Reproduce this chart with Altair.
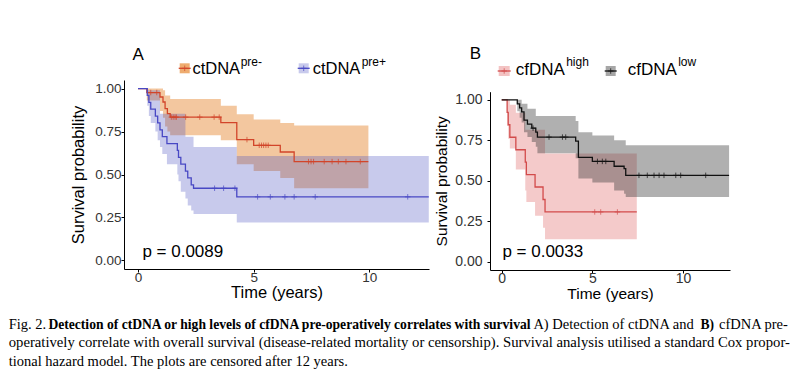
import altair as alt
import numpy as np
import pandas as pd

# ---------------- Panel A : ctDNA pre- / pre+ ----------------
a_neg_t = [0, 0.38, 0.95, 1.08, 1.17, 1.27, 1.39, 3.58, 4.27, 5.00, 6.15, 6.75, 9.96]
a_neg_s = [1, 0.977, 0.951, 0.922, 0.883, 0.854, 0.834, 0.802, 0.703, 0.670, 0.631, 0.575, 0.575]
a_neg_hi = [1, 1, 1, 0.99, 0.96, 0.96, 0.94, 0.90, 0.85, 0.82, 0.80, 0.785, 0.785]
a_neg_lo = [1, 0.93, 0.87, 0.83, 0.78, 0.75, 0.728, 0.70, 0.56, 0.52, 0.48, 0.42, 0.42]
a_neg_cens = [0.55, 0.81, 1.44, 1.52, 1.60, 1.66, 2.06, 2.67, 3.29, 3.51, 4.71, 5.24, 5.34,
              5.43, 5.53, 5.63, 7.37, 7.48, 7.59, 8.05, 8.39, 8.66, 8.99, 9.61]

a_pos_t = [0, 0.40, 0.47, 0.55, 0.75, 0.85, 0.95, 1.05, 1.25, 1.70, 1.75, 1.85, 2.05, 2.15,
           2.30, 2.40, 4.27, 12.57]
a_pos_s = [1, 0.96, 0.92, 0.88, 0.84, 0.80, 0.76, 0.72, 0.68, 0.64, 0.60, 0.56, 0.52, 0.48,
           0.44, 0.42, 0.37, 0.37]
a_pos_hi = [1, 0.99, 0.99, 0.99, 0.99, 0.99, 0.854, 0.854, 0.854, 0.854, 0.854, 0.854, 0.72,
            0.72, 0.72, 0.66, 0.607, 0.607]
a_pos_lo = [1, 0.90, 0.84, 0.80, 0.75, 0.70, 0.66, 0.62, 0.56, 0.50, 0.46, 0.40, 0.36, 0.32,
            0.29, 0.27, 0.22, 0.22]
a_pos_cens = [3.31, 3.70, 4.19, 5.17, 5.72, 6.35, 6.75, 7.66, 11.66]

# ---------------- Panel B : cfDNA high / low ----------------
b_high_t = [0, 0.30, 0.36, 0.45, 0.78, 1.30, 1.36, 1.84, 2.28, 2.39, 7.45]
b_high_s = [1, 0.923, 0.846, 0.769, 0.692, 0.615, 0.538, 0.462, 0.385, 0.308, 0.308]
b_high_hi = [1, 1, 1, 0.97, 0.92, 0.815, 0.815, 0.815, 0.815, 0.668, 0.668]
b_high_lo = [1, 0.84, 0.76, 0.70, 0.57, 0.44, 0.37, 0.285, 0.21, 0.14, 0.14]
b_high_cens = [5.13, 5.46, 6.38]

b_low_t = [0, 0.86, 0.99, 1.10, 1.23, 1.42, 1.66, 1.88, 1.97, 4.08, 4.23, 5.00, 6.20, 6.75,
           6.84, 12.54]
b_low_s = [1, 0.975, 0.95, 0.925, 0.875, 0.85, 0.825, 0.80, 0.77, 0.745, 0.645, 0.62, 0.59,
           0.575, 0.534, 0.534]
b_low_hi = [1, 1, 1, 0.975, 0.975, 0.945, 0.945, 0.90, 0.90, 0.87, 0.80, 0.78, 0.75, 0.75,
            0.72, 0.72]
b_low_lo = [1, 0.93, 0.89, 0.86, 0.80, 0.77, 0.74, 0.71, 0.67, 0.64, 0.515, 0.49, 0.44, 0.42,
            0.40, 0.40]
b_low_cens = [1.73, 2.61, 3.35, 3.53, 5.28, 5.55, 5.74, 7.57, 8.03, 8.40, 8.68, 8.95, 9.60,
              9.87, 11.25]

y_ticks = [0, 0.25, 0.5, 0.75, 1.0]
x_ticks = [0, 5, 10]

SANS = "Liberation Sans"
SERIF = "Liberation Serif"
CENSOR = "M-1,0L1,0M0,-1L0,1"


def curve_df(t, s, lo, hi):
    return pd.DataFrame({"t": t, "s": s, "lo": lo, "hi": hi})


def cens_df(t, s, cens):
    idx = np.searchsorted(np.array(t), np.array(cens), side="right") - 1
    return pd.DataFrame({"t": cens, "s": [s[i] for i in idx]})


dummy = pd.DataFrame({"d": [0]})


def txt(text, x, y, size, weight="normal", font=SANS, color="black", baseline="alphabetic"):
    return alt.Chart(dummy).mark_text(
        text=text, align="left", baseline=baseline, font=font, fontSize=size,
        fontWeight=weight, color=color
    ).encode(x=alt.value(x), y=alt.value(y))


def key(x0, x1, yc, fill, fop, line):
    box = alt.Chart(dummy).mark_rect(fill=fill, fillOpacity=fop).encode(
        x=alt.value(x0), x2=alt.value(x1), y=alt.value(yc - 5), y2=alt.value(yc + 5))
    ln = alt.Chart(dummy).mark_rule(color=line, strokeWidth=1.3).encode(
        x=alt.value(x0 - 1), x2=alt.value(x1 + 1), y=alt.value(yc))
    pt = alt.Chart(dummy).mark_point(shape=CENSOR, size=30, filled=False, color=line,
                                     strokeWidth=1).encode(
        x=alt.value((x0 + x1) / 2), y=alt.value(yc))
    return [box, ln, pt]


def panel(groups, xdom, ydom, yrange, lab_size, title_size, ytitle_pad, ylab_pad):
    xs = alt.Scale(domain=xdom, nice=False, zero=False)
    if yrange is None:
        ys = alt.Scale(domain=ydom, nice=False, zero=False)
    else:
        ys = alt.Scale(domain=ydom, nice=False, zero=False, range=yrange)
    xax = alt.Axis(values=x_ticks, title="Time (years)", grid=False, domainColor="black",
                   tickColor="black", tickSize=3, labelPadding=-2, labelFontSize=lab_size,
                   labelFont=SANS, labelColor="#333333", titleFont=SANS,
                   titleFontSize=title_size, titleFontWeight="normal", titleColor="black",
                   titlePadding=1)
    yax = alt.Axis(values=y_ticks, format=".2f", title="Survival probability", grid=False,
                   domainColor="black", tickColor="black", tickSize=3,
                   labelPadding=ylab_pad, labelFontSize=lab_size, labelFont=SANS,
                   labelColor="#333333", titleFont=SANS, titleFontSize=title_size,
                   titleFontWeight="normal", titleColor="black", titlePadding=ytitle_pad)
    layers = []
    first = True
    for g in groups:
        df = curve_df(g["t"], g["s"], g["lo"], g["hi"])
        if first:
            band = alt.Chart(df).mark_area(interpolate="step-after", color=g["band"],
                                           opacity=g["op"]).encode(
                x=alt.X("t:Q", scale=xs, axis=xax),
                y=alt.Y("lo:Q", scale=ys, axis=yax),
                y2="hi:Q")
            first = False
        else:
            band = alt.Chart(df).mark_area(interpolate="step-after", color=g["band"],
                                           opacity=g["op"]).encode(
                x="t:Q", y="lo:Q", y2="hi:Q")
        layers.append(band)
    for g in groups:
        df = curve_df(g["t"], g["s"], g["lo"], g["hi"])
        layers.append(alt.Chart(df).mark_line(interpolate="step-after", color=g["line"],
                                              strokeWidth=1.3).encode(x="t:Q", y="s:Q"))
        cd = cens_df(g["t"], g["s"], g["cens"])
        layers.append(alt.Chart(cd).mark_point(shape=CENSOR, size=30, filled=False,
                                               color=g["line"], strokeWidth=1).encode(
            x="t:Q", y="s:Q"))
    return layers


A_ORANGE, A_RED, A_BLUEB, A_BLUE = "#E8903F", "#D2452A", "#4A50C0", "#4848C4"
B_PINK, B_RED, B_GREY, B_BLACK = "#E06868", "#D24B4B", "#3A3A3A", "#111111"

groupsA = [
    dict(t=a_neg_t, s=a_neg_s, lo=a_neg_lo, hi=a_neg_hi, cens=a_neg_cens, band=A_ORANGE,
         op=0.5, line=A_RED),
    dict(t=a_pos_t, s=a_pos_s, lo=a_pos_lo, hi=a_pos_hi, cens=a_pos_cens, band=A_BLUEB,
         op=0.3, line=A_BLUE),
]
groupsB = [
    dict(t=b_high_t, s=b_high_s, lo=b_high_lo, hi=b_high_hi, cens=b_high_cens, band=B_PINK,
         op=0.35, line=B_RED),
    dict(t=b_low_t, s=b_low_s, lo=b_low_lo, hi=b_low_hi, cens=b_low_cens, band=B_GREY,
         op=0.4, line=B_BLACK),
]

layersA = panel(groupsA, [-0.606, 12.58], [-0.05, 1.05], None, 13.5, 16.5, 8, 0)
layersA += [txt("A", 8.4, -20.4, 17)]
layersA += key(55.7, 65.7, -11.7, A_ORANGE, 0.75, A_RED)
layersA += [txt("ctDNA", 68.4, -6.2, 16.5), txt("pre-", 116.7, -14.2, 12)]
layersA += key(174.7, 184.7, -11.7, A_BLUEB, 0.3, A_BLUE)
layersA += [txt("ctDNA", 188.7, -6.2, 16.5), txt("pre+", 237.7, -14.2, 12)]
layersA += [txt("p = 0.0089", 18.4, 177, 17)]
chartA = alt.layer(*layersA).properties(width=305, height=189)

layersB = panel(groupsB, [-0.645, 12.59], [-0.05, 1.05], [190, 11.7], 14, 15.5, 5, 5)
layersB += [txt("B", -20.3, -21.4, 17)]
layersB += key(8.7, 19.7, -9, B_PINK, 0.4, B_RED)
layersB += [txt("cfDNA", 25.7, -4.7, 17), txt("high", 76.2, -13.7, 12)]
layersB += key(115.7, 125.7, -9, B_GREY, 0.45, B_BLACK)
layersB += [txt("cfDNA", 137.7, -4.7, 17), txt("low", 188.2, -13.7, 12)]
layersB += [txt("p = 0.0033", 12.4, 177, 17)]
chartB = alt.layer(*layersB).properties(width=240, height=190)

# ---------------- caption ----------------
L1, L2, L3 = 229.3, 247.3, 266.3
cap_layers = [
    txt("Fig. 2.", -115.3, L1, 14.5, font=SERIF),
    txt("Detection of ctDNA or high levels of cfDNA pre-operatively correlates with survival",
        -75.6, L1, 13.6, weight="bold", font=SERIF),
    txt("A) Detection of ctDNA and", 409.4, L1, 14.5, font=SERIF),
    txt("B)", 576.5, L1, 13.6, weight="bold", font=SERIF),
    txt("cfDNA pre-", 595.0, L1, 14.5, font=SERIF),
    txt("operatively correlate with overall survival (disease-related mortality or censorship). "
        "Survival analysis utilised a standard Cox propor-", -115.3, L2, 14.7, font=SERIF),
    txt("tional hazard model. The plots are censored after 12 years.", -115.3, L3, 14.5,
        font=SERIF),
]
caption = alt.layer(*cap_layers).properties(width=606, height=70)

top = alt.hconcat(chartA, chartB, spacing=61, bounds="flush")
chart = alt.vconcat(top, caption, spacing=20, bounds="flush").properties(
    padding={"left": 0, "top": 36, "right": 0, "bottom": 0}
).configure_view(stroke="transparent")

chart.save("out.html", embed_options={"renderer": "svg", "actions": False})
